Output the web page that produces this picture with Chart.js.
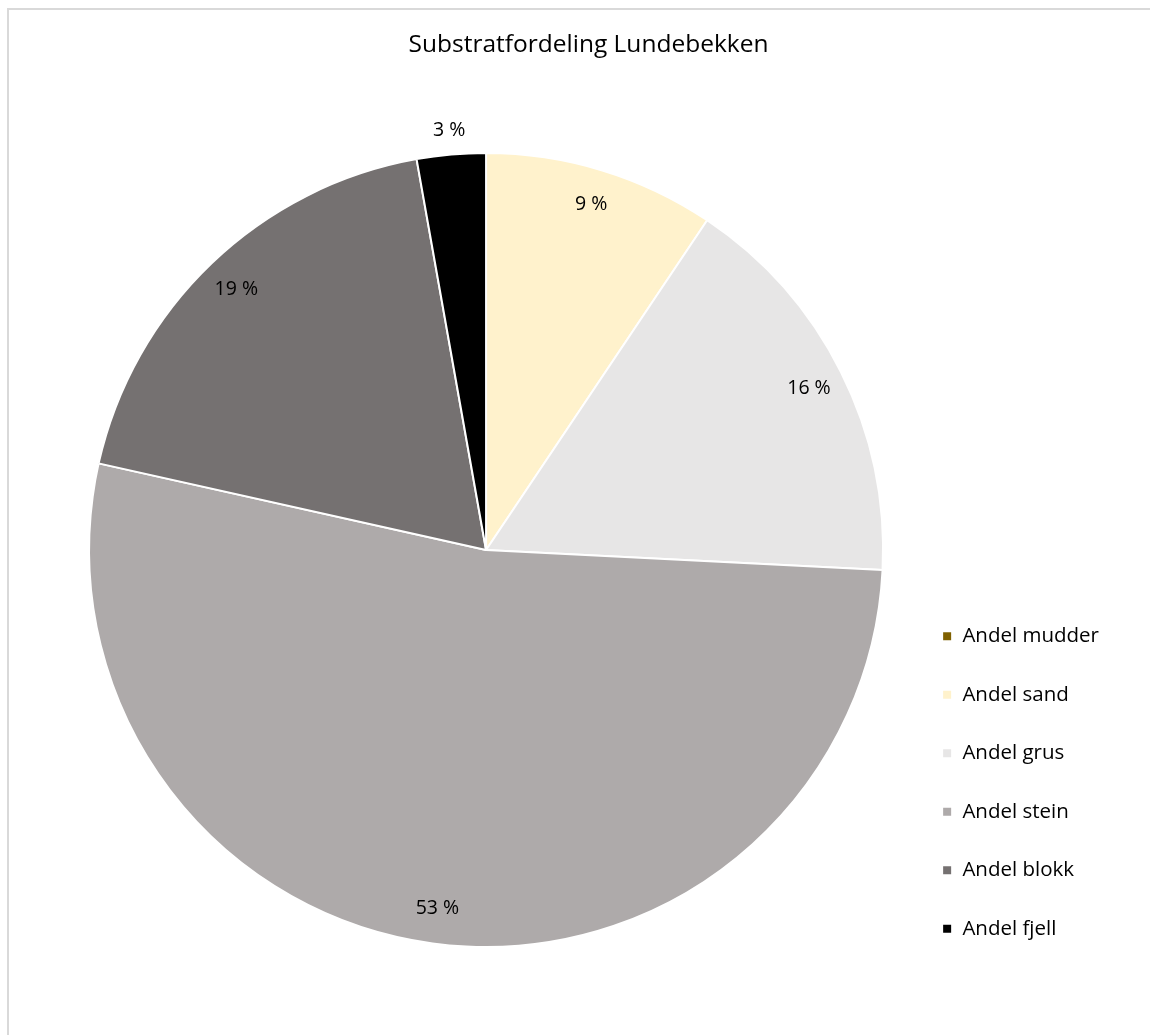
<!DOCTYPE html>
<html>
<head>
<meta charset="utf-8">
<script src="https://cdn.jsdelivr.net/npm/chart.js@4"></script>
<style>
  body { margin: 0; background: #fff; }
  #frame { position: absolute; left: 7px; top: 8px; width: 1200px; height: 1100px; border: 2px solid #d9d9d9; box-sizing: border-box; }
  #myChart { position: absolute; left: 0; top: 0; }
</style>
</head>
<body>
<div id="frame"></div>
<canvas id="myChart" width="1150" height="1035"></canvas>
<script>
var labels = ["Andel mudder", "Andel sand", "Andel grus", "Andel stein", "Andel blokk", "Andel fjell"];
var shares = [0, 9.4, 16.4, 52.7, 18.7, 2.8];
var colors = ["#7f6000", "#fff2cc", "#e7e6e6", "#aeaaaa", "#757171", "#000000"];

var fontFamily = "'Open Sans', sans-serif";

// percent labels on the slices, like excel "best fit"
var sliceLabels = {
  id: "sliceLabels",
  afterDatasetsDraw: function (chart) {
    var ctx = chart.ctx;
    var meta = chart.getDatasetMeta(0);
    ctx.save();
    ctx.font = "19.5px " + fontFamily;
    ctx.fillStyle = "#000";
    ctx.textAlign = "center";
    ctx.textBaseline = "middle";
    meta.data.forEach(function (arc, i) {
      var v = shares[i];
      if (!v) return;
      var p = arc.getProps(["x", "y", "startAngle", "endAngle", "outerRadius"], true);
      var mid = (p.startAngle + p.endAngle) / 2;
      var f = v < 5 ? 1.06 : 0.91;
      var x = p.x + Math.cos(mid) * p.outerRadius * f;
      var y = p.y + Math.sin(mid) * p.outerRadius * f;
      ctx.fillText(Math.round(v) + " %", x, y);
    });
    ctx.restore();
  },
};

var ctx = document.getElementById("myChart");
var myChart = new Chart(ctx, {
  type: "pie",
  data: {
    labels: labels,
    datasets: [
      {
        data: shares,
        backgroundColor: colors,
        borderColor: "#ffffff",
        borderWidth: 2,
        radius: 397,
      },
    ],
  },
  options: {
    responsive: false,
    animation: false,
    layout: {
      padding: { top: 0, left: 68, right: 41, bottom: 58 },
    },
    plugins: {
      title: {
        display: true,
        text: "Substratfordeling Lundebekken",
        color: "#000",
        font: { family: fontFamily, size: 24.5, weight: "normal" },
        padding: { top: 30, bottom: 63.6 },
      },
      legend: {
        display: true,
        position: "right",
        align: "end",
        labels: {
          boxWidth: 10,
          boxHeight: 10,
          padding: 38,
          color: "#000",
          font: { family: fontFamily, size: 20.5 },
        },
      },
      tooltip: { enabled: false },
    },
  },
  plugins: [sliceLabels],
});
</script>
</body>
</html>
